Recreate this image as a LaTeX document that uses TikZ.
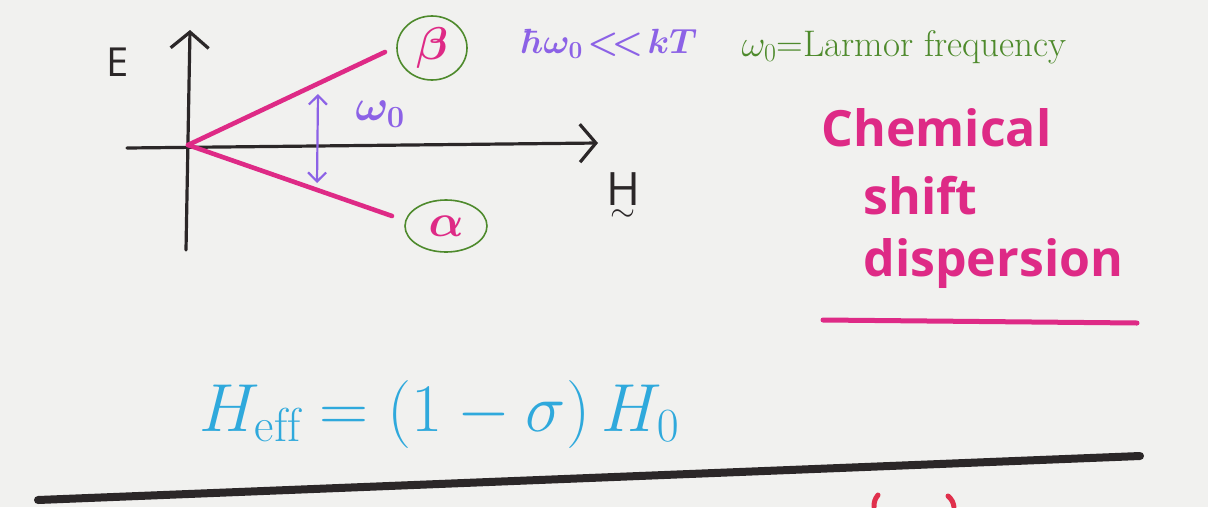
\RequirePackage{fix-cm}
\documentclass[tikz,border=0pt]{standalone}
\usepackage{amsmath}
\usepackage{fontspec}
\setsansfont{Open Sans}
\usetikzlibrary{arrows.meta,positioning,shapes.geometric}
\definecolor{board}{HTML}{F1F1EF}
\definecolor{ink}{HTML}{2B2728}
\definecolor{magenta}{HTML}{DE2A86}
\definecolor{violet}{HTML}{8C62E6}
\definecolor{leaf}{HTML}{4E8A2C}
\definecolor{sky}{HTML}{2FA9DC}
\definecolor{redink}{HTML}{E0304C}
\tikzset{
  >={Straight Barb[length=16pt,width=38pt]},
  axisline/.style={->,line width=3.2pt,ink,line cap=round},
  levelline/.style={line width=4.6pt,magenta,line cap=round},
  gapline/.style={<->,line width=2.2pt,violet,
    >={Straight Barb[length=9pt,width=18pt]}},
  ring/.style={ellipse,draw=leaf,line width=1.6pt,inner sep=0pt,
    text=magenta,font=\fontsize{46}{46}\selectfont\bfseries},
  inklbl/.style={ink,font=\sffamily\fontsize{40}{40}\selectfont},
  violetlbl/.style={violet,font=\fontsize{35}{35}\selectfont\bfseries},
  leaflbl/.style={leaf,font=\fontsize{37}{37}\selectfont,anchor=west},
  titlelbl/.style={magenta,font=\sffamily\bfseries\fontsize{50}{50}\selectfont,anchor=west},
  skylbl/.style={sky,font=\fontsize{68}{68}\selectfont,anchor=west},
}
\begin{document}
\begin{tikzpicture}[x=1pt,y=-1pt]
  \fill[board] (0,0) rectangle (1208,507);
  \useasboundingbox (0,0) rectangle (1208,507);
  % axes
  \coordinate (o) at (188,145);
  \coordinate (ybot) at (186,250);
  \coordinate (ytop) at (190,30);
  \coordinate (xleft) at (127,148);
  \coordinate (xright) at (598,143);
  \draw[axisline] (ybot) -- (ytop);
  \draw[axisline] (xleft) -- (xright);
  \node[inklbl] (elbl) at (118,62) {E};
  \node[ink,font=\fontsize{46}{46}\selectfont] (hlbl) at (623,198) {$\underset{\sim}{\mathsf{H}}$};
  % Zeeman levels
  \node[ring,minimum width=70pt,minimum height=64pt] (beta) at (432,48) {$\boldsymbol{\beta}$};
  \node[ring,minimum width=82pt,minimum height=52pt] (alpha) at (446,226) {$\boldsymbol{\alpha}$};
  \coordinate (betaend) at (385,52);
  \coordinate (alphaend) at (392,216);
  \draw[levelline] (o) -- (betaend);
  \draw[levelline] (o) -- (alphaend);
  \coordinate (gaptop) at (318,94);
  \coordinate (gapbot) at (317,183);
  \draw[gapline] (gaptop) -- (gapbot);
  \node[violetlbl,font=\fontsize{44}{44}\selectfont] (omega) at (380,114) {$\boldsymbol{\omega_0}$};
  % notes
  \node[violetlbl] (cond) at (610,44) {$\boldsymbol{\hbar\omega_0\!<\!<\!kT}$};
  \node[leaflbl] (larmor) at (738,47) {$\omega_0$=Larmor frequency};
  \node[titlelbl] (chem) at (818,128) {Chemical};
  \node[titlelbl] (shift) at (860,196) {shift};
  \node[titlelbl] (disp) at (860,264) {dispersion};
  \coordinate (ulleft) at (823,320);
  \coordinate (ulright) at (1137,323);
  \draw[magenta,line width=5pt,line cap=round] (ulleft) -- (ulright);
  \node[skylbl] (heff) at (196,414) {$H_{\mathrm{eff}} = (1-\sigma)\,H_0$};
  % rule
  \coordinate (ruleleft) at (38,500);
  \coordinate (ruleright) at (1140,456);
  \draw[ink,line width=8pt,line cap=round] (ruleleft) -- (ruleright);
  \draw[redink,line width=5pt,line cap=round] (878,495) to[bend right=20] (874,507);
  \draw[redink,line width=5pt,line cap=round] (948,496) to[bend left=20] (954,507);
\end{tikzpicture}
\end{document}
